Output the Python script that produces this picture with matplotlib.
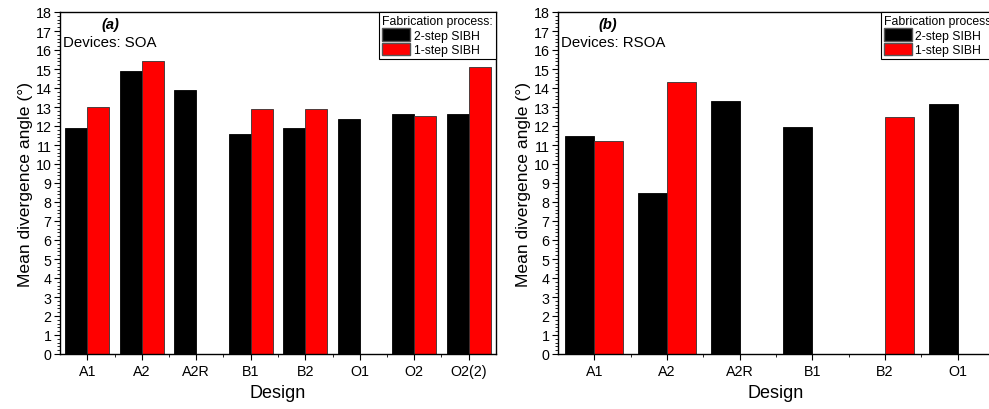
import numpy as np
import matplotlib
matplotlib.use('Agg')
import matplotlib.pyplot as plt
from matplotlib.ticker import MultipleLocator
from matplotlib.patches import Patch

plt.rcParams['font.family'] = ['Liberation Sans', 'DejaVu Sans']

# panel (a): SOA devices
designs_a = ['A1', 'A2', 'A2R', 'B1', 'B2', 'O1', 'O2', 'O2(2)']
two_step_a = [11.9, 14.9, 13.9, 11.6, 11.9, 12.35, 12.65, 12.65]
one_step_a = [13.0, 15.4, np.nan, 12.9, 12.9, np.nan, 12.55, 15.1]

# panel (b): RSOA devices
designs_b = ['A1', 'A2', 'A2R', 'B1', 'B2', 'O1']
two_step_b = [11.5, 8.5, 13.3, 11.95, np.nan, 13.15]
one_step_b = [11.2, 14.3, np.nan, np.nan, 12.5, np.nan]

series_labels = ['2-step SIBH', '1-step SIBH']
colors = ['black', 'red']

fig = plt.figure(figsize=(9.89, 4.10), dpi=100)
ax_a = fig.add_axes([60 / 989, 55 / 410, 436 / 989, 342 / 410])
ax_b = fig.add_axes([558 / 989, 55 / 410, 436 / 989, 342 / 410])


def draw_panel(ax, designs, two_step, one_step, tag, devices, title):
    x = np.arange(len(designs))
    w = 0.4
    ax.bar(x - w / 2, two_step, w, color=colors[0], edgecolor='black', linewidth=0.6)
    ax.bar(x + w / 2, one_step, w, color=colors[1], edgecolor='#333333', linewidth=0.6)

    ax.set_xlim(-0.5, len(designs) - 0.5)
    ax.set_ylim(0, 18)
    ax.set_xticks(x)
    ax.set_xticklabels(designs)
    ax.set_xticks(x[:-1] + 0.5, minor=True)
    ax.yaxis.set_major_locator(MultipleLocator(1))
    ax.yaxis.set_minor_locator(MultipleLocator(0.2))
    ax.tick_params(axis='both', which='major', direction='out', length=4, width=0.8, labelsize=10.3)
    ax.tick_params(axis='y', which='major', pad=2)
    ax.tick_params(axis='both', which='minor', direction='out', length=2.5, width=0.6)
    for s in ax.spines.values():
        s.set_linewidth(1.0)

    ax.set_xlabel('Design', fontsize=13, labelpad=4)
    ax.set_ylabel('Mean divergence angle (°)', fontsize=12.6, labelpad=2)

    ax.text(0.115, 0.965, tag, transform=ax.transAxes, fontsize=10.5,
            fontweight='bold', fontstyle='italic', ha='center', va='center')
    ax.text(0.007, 0.912, devices, transform=ax.transAxes, fontsize=10.8,
            ha='left', va='center')

    handles = [Patch(facecolor=colors[0], edgecolor='#555555'),
               Patch(facecolor=colors[1], edgecolor='#555555')]
    leg = ax.legend(handles, series_labels, title=title, loc='upper right',
                    borderaxespad=0, fancybox=False, framealpha=1,
                    edgecolor='black', fontsize=8.8, title_fontsize=8.8,
                    handlelength=2.3, handleheight=1.2, handletextpad=0.3,
                    labelspacing=0.1, borderpad=0.25, alignment='left')
    leg.get_frame().set_linewidth(0.8)


draw_panel(ax_a, designs_a, two_step_a, one_step_a, '(a)', 'Devices: SOA',
           'Fabrication process:')
draw_panel(ax_b, designs_b, two_step_b, one_step_b, '(b)', 'Devices: RSOA',
           'Fabrication process')

fig.savefig('out.png', dpi=100)
